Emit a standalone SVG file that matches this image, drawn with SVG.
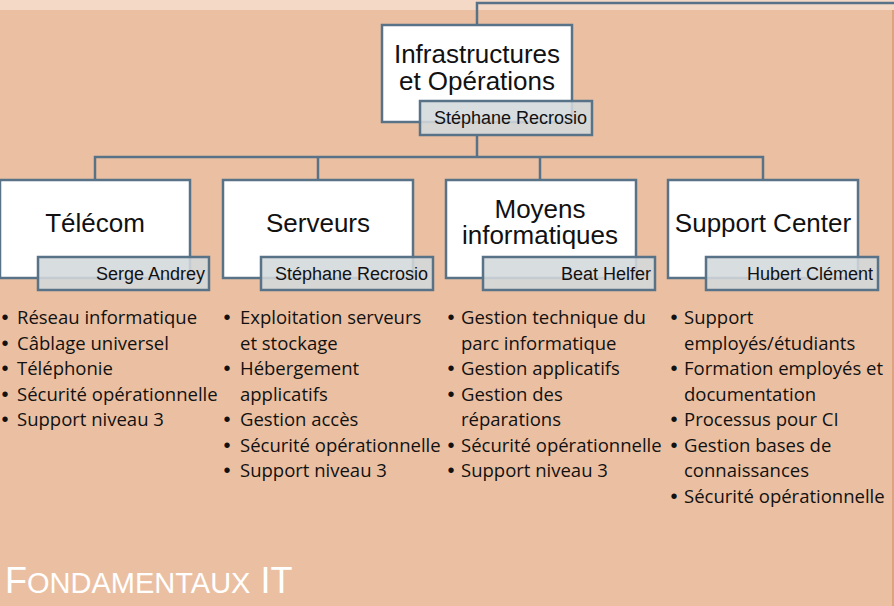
<svg xmlns="http://www.w3.org/2000/svg" width="894" height="606" viewBox="0 0 894 606">
<style>
.box{fill:#ffffff;stroke:#587287;stroke-width:2.5}
.nm{fill:#d3d8dc;fill-opacity:0.88;stroke:#587287;stroke-width:2.5}
.ttl{font-family:"Liberation Sans",Arial,sans-serif;font-size:26px;fill:#111;text-anchor:middle}
.nt{font-family:"Liberation Sans",Arial,sans-serif;font-size:18px;fill:#111;text-anchor:end}
.li{font-family:"Open Sans","Noto Sans",sans-serif;font-size:18.5px;fill:#111}
.b{font-family:"Liberation Sans",Arial,sans-serif;font-size:20px;fill:#111}
.con{fill:none;stroke:#587287;stroke-width:2.5}
</style>
<rect x="0" y="0" width="894" height="606" fill="#ebc0a2"/>
<rect x="0" y="0" width="894" height="10" fill="#f5d9c7"/>
<line x1="893" y1="10" x2="893" y2="606" stroke="#d99a70" stroke-width="1.5"/>
<g id="connectors">
<path class="con" d="M894 3 H477 V25"/>
<path class="con" d="M477 135 V157"/>
<path class="con" d="M95 180 V157 H763 V180"/>
<path class="con" d="M318 157 V180"/>
<path class="con" d="M540 157 V180"/>
</g>
<g id="root">
<rect class="box" x="382" y="25" width="190" height="97"/>
<text class="ttl" x="477" y="63">Infrastructures</text>
<text class="ttl" x="477" y="90">et Opérations</text>
<rect class="nm" x="420" y="101" width="172" height="34"/>
<text class="nt" x="587" y="124">Stéphane Recrosio</text>
</g>
<g id="telecom">
<rect class="box" x="0" y="180" width="190" height="98"/>
<text class="ttl" x="95" y="232">Télécom</text>
<rect class="nm" x="38" y="257" width="171" height="33"/>
<text class="nt" x="205" y="280">Serge Andrey</text>
</g>
<g id="serveurs">
<rect class="box" x="223" y="180" width="190" height="98"/>
<text class="ttl" x="318" y="232">Serveurs</text>
<rect class="nm" x="261" y="257" width="172" height="33"/>
<text class="nt" x="428" y="280">Stéphane Recrosio</text>
</g>
<g id="moyens">
<rect class="box" x="446" y="180" width="190" height="98"/>
<text class="ttl" x="540" y="218">Moyens</text>
<text class="ttl" x="540" y="244">informatiques</text>
<rect class="nm" x="483" y="257" width="172" height="33"/>
<text class="nt" x="651" y="280">Beat Helfer</text>
</g>
<g id="support">
<rect class="box" x="668" y="180" width="190" height="98"/>
<text class="ttl" x="763" y="232">Support Center</text>
<rect class="nm" x="706" y="257" width="172" height="33"/>
<text class="nt" x="873" y="280">Hubert Clément</text>
</g>
<g id="list-telecom">
<g class="b"><text x="1.5" y="324">•</text><text x="1.5" y="349.5">•</text><text x="1.5" y="375">•</text><text x="1.5" y="400.5">•</text><text x="1.5" y="426">•</text></g>
<g class="li">
<text x="17" y="324">Réseau informatique</text>
<text x="17" y="349.5">Câblage universel</text>
<text x="17" y="375">Téléphonie</text>
<text x="17" y="400.5">Sécurité opérationnelle</text>
<text x="17" y="426">Support niveau 3</text>
</g>
</g>
<g id="list-serveurs">
<g class="b"><text x="223.5" y="324">•</text><text x="223.5" y="375">•</text><text x="223.5" y="426">•</text><text x="223.5" y="451.5">•</text><text x="223.5" y="477">•</text></g>
<g class="li">
<text x="240" y="324">Exploitation serveurs</text>
<text x="240" y="349.5">et stockage</text>
<text x="240" y="375">Hébergement</text>
<text x="240" y="400.5">applicatifs</text>
<text x="240" y="426">Gestion accès</text>
<text x="240" y="451.5">Sécurité opérationnelle</text>
<text x="240" y="477">Support niveau 3</text>
</g>
</g>
<g id="list-moyens">
<g class="b"><text x="447.5" y="324">•</text><text x="447.5" y="375">•</text><text x="447.5" y="400.5">•</text><text x="447.5" y="451.5">•</text><text x="447.5" y="477">•</text></g>
<g class="li">
<text x="461" y="324">Gestion technique du</text>
<text x="461" y="349.5">parc informatique</text>
<text x="461" y="375">Gestion applicatifs</text>
<text x="461" y="400.5">Gestion des</text>
<text x="461" y="426">réparations</text>
<text x="461" y="451.5">Sécurité opérationnelle</text>
<text x="461" y="477">Support niveau 3</text>
</g>
</g>
<g id="list-support">
<g class="b"><text x="670.5" y="324">•</text><text x="670.5" y="375">•</text><text x="670.5" y="426">•</text><text x="670.5" y="451.5">•</text><text x="670.5" y="502.5">•</text></g>
<g class="li">
<text x="684" y="324">Support</text>
<text x="684" y="349.5">employés/étudiants</text>
<text x="684" y="375">Formation employés et</text>
<text x="684" y="400.5">documentation</text>
<text x="684" y="426">Processus pour CI</text>
<text x="684" y="451.5">Gestion bases de</text>
<text x="684" y="477">connaissances</text>
<text x="684" y="502.5">Sécurité opérationnelle</text>
</g>
</g>
<text x="5" y="593" font-family="'Liberation Sans',Arial,sans-serif" font-size="36" fill="#ffffff">F<tspan font-size="29">ONDAMENTAUX</tspan> IT</text>
</svg>
